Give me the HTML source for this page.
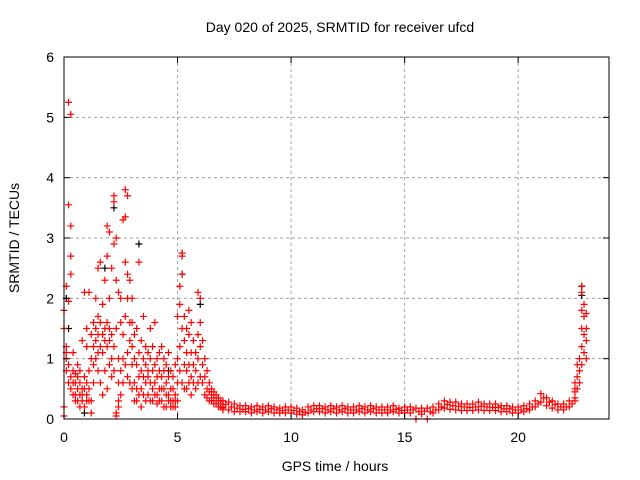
<!DOCTYPE html>
<html><head><meta charset="utf-8"><style>
body{margin:0;background:#fff;}
svg{display:block;font-family:"Liberation Sans",sans-serif;}
</style></head><body>
<svg id="chart" width="640" height="480" viewBox="0 0 640 480">
<rect width="640" height="480" fill="#fff"/>
<text x="340" y="32" font-size="14" text-anchor="middle">Day 020 of 2025, SRMTID for receiver ufcd</text>
<text transform="translate(19,238) rotate(-90)" font-size="14" text-anchor="middle">SRMTID / TECUs</text>
<text x="335" y="471" font-size="14" text-anchor="middle">GPS time / hours</text>
<g id="grid"></g><g id="marks"></g><g id="axes"></g>
</svg>
<script>
const xTicks=[0,5,10,15,20];
const yTicks=[0,1,2,3,4,5,6];
const activeTimes=[0.0,0.1,0.2,0.3,0.4,0.5,0.6,0.7,0.8,0.9,1.0,1.1,1.2,1.3,1.4,1.5,1.6,1.7,1.8,1.9,2.0,2.1,2.2,2.3,2.4,2.5,2.6,2.7,2.8,2.9,3.0,3.1,3.2,3.3,3.4,3.5,3.6,3.7,3.8,3.9,4.0,4.1,4.2,4.3,4.4,4.5,4.6,4.7,4.8,4.9,5.0,5.1,5.2,5.3,5.4,5.5,5.6,5.7,5.8,5.9,6.0,6.1,6.2,6.3,6.4,6.5,6.6,6.7,6.8,6.9,7.0,22.5,22.6,22.7,22.8,22.9,23.0];
const activeValues=[[0.05,0.2,1.5,1.8],[1.0,0.8,1.1,2.2,1.2],[0.9,0.6,5.25,3.55,1.95],[5.05,3.2,2.7,2.4,0.7,0.5],[0.8,0.6,0.4,1.1],[0.6,0.4,0.3,0.75],[0.5,0.3,0.7,0.9],[0.4,0.6,0.2,0.8],[0.5,0.3,0.4,1.3],[0.5,0.7,0.2,2.1],[0.4,0.6,0.3,1.2,1.5],[0.5,0.8,0.3,2.1],[1.4,1.0,0.3,0.1],[1.2,1.6,0.9,0.6],[1.3,1.0,2.0,1.5],[1.1,1.4,2.5,0.8,1.7],[1.2,1.6,2.6,0.6],[1.4,1.1,1.9,0.4],[1.3,1.5,2.3,0.8],[1.6,1.2,3.2,2.7,0.5],[1.5,1.3,3.1,0.9,2.0],[1.4,1.0,2.5,0.7],[3.7,3.6,2.9,1.2,0.8],[3.0,1.5,0.1,0.05,2.3],[0.2,0.3,1.0,2.1,0.6],[0.4,0.8,1.6,2.0],[1.0,1.4,3.3,0.6],[3.8,3.35,2.6,1.7,0.9],[3.7,2.4,2.0,1.1,0.7],[2.3,1.6,1.3,0.6],[1.6,1.2,0.9,0.5,2.0],[1.4,1.0,0.6,0.3],[1.5,0.9,0.5,0.3],[2.6,1.1,0.7,0.4],[1.3,0.8,0.5,0.2],[1.0,0.7,0.4,1.7],[0.9,0.6,0.3,1.2],[1.1,0.7,0.4,0.8],[1.0,0.6,0.3,1.5],[0.8,0.5,0.3,1.2],[0.9,0.6,0.4,1.6],[0.7,0.4,0.25,1.0],[0.8,0.5,0.3,1.1],[1.2,0.7,0.3,0.5],[0.8,0.5,0.2,1.0],[0.6,0.4,0.2,0.9],[0.7,0.4,0.3,1.1],[0.8,0.5,0.2,0.3],[0.5,0.3,0.2,0.7],[0.4,0.3,0.2,0.9],[0.6,0.3,1.0,1.7],[1.2,1.9,2.2,0.8],[2.75,2.7,1.5,0.6,2.4],[1.7,1.3,0.9,0.5],[1.5,1.1,0.8,0.5],[1.8,1.4,0.9,0.6],[1.6,1.1,0.7,0.4],[1.3,0.9,0.6],[1.1,0.8,0.5],[2.1,1.4,1.0,0.6],[2.0,1.6,1.2,0.7],[1.3,0.9,0.6],[1.0,0.7,0.4],[0.8,0.5,0.35],[0.6,0.45,0.3],[0.5,0.4,0.3],[0.45,0.35,0.25],[0.4,0.3,0.25],[0.35,0.3,0.2],[0.3,0.25,0.2],[0.3,0.2,0.15],[0.5,0.6,0.35],[0.9,0.7,0.5],[1.0,0.8,0.6],[1.8,1.5,1.2,0.9,2.1,2.2],[1.7,1.4,1.1,1.9],[1.75,1.5,1.3,1.0]];
const baseStart=7.0, baseStep=0.25;
const baseHi=[0.3,0.28,0.25,0.22,0.22,0.2,0.22,0.2,0.22,0.2,0.18,0.2,0.2,0.18,0.15,0.2,0.22,0.22,0.2,0.22,0.2,0.22,0.2,0.2,0.22,0.2,0.22,0.2,0.2,0.2,0.22,0.18,0.2,0.2,0.18,0.18,0.18,0.2,0.25,0.3,0.28,0.28,0.25,0.25,0.25,0.28,0.25,0.25,0.25,0.22,0.22,0.2,0.2,0.22,0.25,0.3,0.42,0.35,0.3,0.25,0.25,0.3,0.45];
const baseLo=[0.18,0.15,0.12,0.12,0.12,0.1,0.12,0.1,0.12,0.1,0.1,0.1,0.1,0.08,0.07,0.1,0.12,0.12,0.1,0.12,0.1,0.12,0.1,0.1,0.12,0.1,0.12,0.1,0.1,0.1,0.12,0.1,0.1,0.1,0.0,0.08,0.0,0.1,0.15,0.18,0.16,0.15,0.14,0.14,0.14,0.15,0.14,0.14,0.14,0.12,0.12,0.1,0.1,0.12,0.15,0.2,0.28,0.22,0.18,0.15,0.15,0.2,0.3];
const midStart=7.125;
const baseMid=[0.24,0.2,0.18,0.16,0.17,0.15,0.16,0.15,0.17,0.15,0.14,0.15,0.14,0.12,0.11,0.15,0.17,0.17,0.15,0.17,0.15,0.17,0.15,0.15,0.17,0.15,0.17,0.15,0.15,0.15,0.16,0.14,0.15,0.15,0.12,0.13,0.12,0.15,0.2,0.24,0.22,0.21,0.2,0.19,0.2,0.21,0.2,0.19,0.19,0.17,0.17,0.15,0.15,0.17,0.2,0.25,0.35,0.28,0.24,0.2,0.2,0.25];
const blackTimes=[0.1,0.2,0.9,1.8,2.2,3.3,4.6,5.2,5.2,6.0,22.8,22.8];
const blackValues=[2.0,1.5,0.1,2.5,3.5,2.9,0.8,2.75,2.4,1.9,2.2,2.05];

const L=64,R=609,T=57,B=419,XMAX=24,YMAX=6;
const sx=t=>L+t/XMAX*(R-L);
const sy=v=>B-v/YMAX*(B-T);
const NS="http://www.w3.org/2000/svg";
const grid=document.getElementById('grid'),marks=document.getElementById('marks'),axes=document.getElementById('axes');
function mk(tag,attrs,parent){const e=document.createElementNS(NS,tag);for(const k in attrs)e.setAttribute(k,attrs[k]);parent.appendChild(e);return e;}
xTicks.forEach(t=>{
  if(t>0){const g=mk('line',{x1:sx(t),x2:sx(t),y1:T,y2:B,stroke:'#a0a0a0','stroke-dasharray':'3,3'},grid);
  
  }
  mk('line',{x1:sx(t),x2:sx(t),y1:B,y2:B-6,stroke:'#000'},axes);
  mk('line',{x1:sx(t),x2:sx(t),y1:T,y2:T+6,stroke:'#000'},axes);
  const lb=mk('text',{x:sx(t),y:B+23,'font-size':14,'text-anchor':'middle'},axes);lb.textContent=t;
  
  
});
yTicks.forEach(v=>{
  if(v>0&&v<YMAX){const g=mk('line',{x1:L,x2:R,y1:sy(v),y2:sy(v),stroke:'#a0a0a0','stroke-dasharray':'3,3'},grid);
  
  }
  mk('line',{x1:L,x2:L+6,y1:sy(v),y2:sy(v),stroke:'#000'},axes);
  mk('line',{x1:R,x2:R-6,y1:sy(v),y2:sy(v),stroke:'#000'},axes);
  const lb=mk('text',{x:L-10,y:sy(v)+5,'font-size':14,'text-anchor':'end'},axes);lb.textContent=v;
  
  
});
const frame=mk('rect',{x:L,y:T,width:R-L,height:B-T,fill:'none',stroke:'#000'},axes);


function plus(t,v,color){
  const x=sx(t),y=sy(v);
  const p=mk('path',{d:`M${x-3.5},${y}h7M${x},${y-3.5}v7`,stroke:color,'stroke-width':1.2,fill:'none'},marks);
  
  
}
blackTimes.forEach((t,i)=>plus(t,blackValues[i],'#000'));
activeTimes.forEach((t,i)=>activeValues[i].forEach(v=>plus(t,v,'#f00')));
baseHi.forEach((v,i)=>{const t=baseStart+i*baseStep;plus(t,v,'#f00');plus(t,baseLo[i],'#f00');});
baseMid.forEach((v,i)=>plus(midStart+i*baseStep,v,'#f00'));
</script>
</body></html>
